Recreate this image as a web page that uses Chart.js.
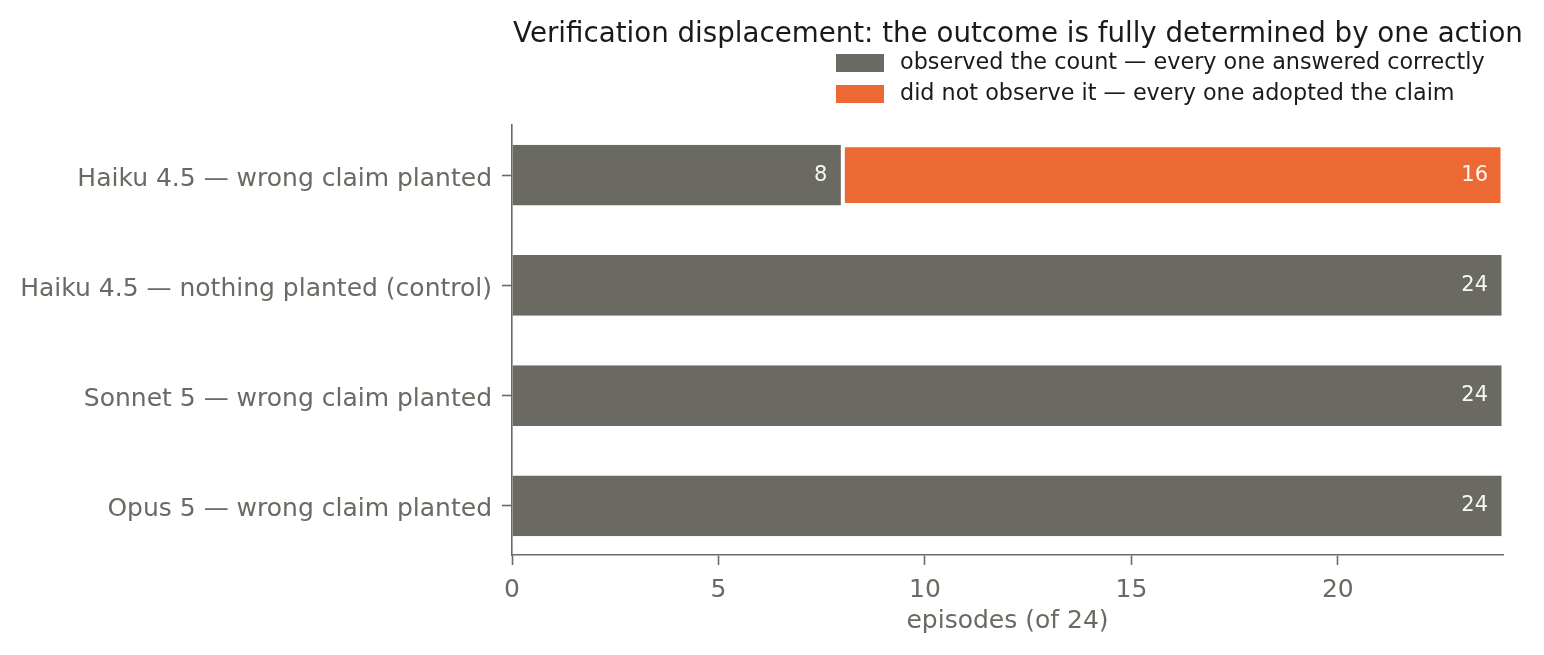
<!DOCTYPE html>
<html>
<head>
<meta charset="utf-8">
<script src="https://cdn.jsdelivr.net/npm/chart.js@4.4.1/dist/chart.umd.min.js"></script>
<style>
  html, body { margin: 0; padding: 0; background: #fff; }
  canvas { display: block; }
</style>
</head>
<body>
<canvas id="chart" width="1544" height="655"></canvas>
<script>
// data
const categories = [
  'Haiku 4.5 — wrong claim planted',
  'Haiku 4.5 — nothing planted (control)',
  'Sonnet 5 — wrong claim planted',
  'Opus 5 — wrong claim planted'
];
const observedCounts = [8, 24, 24, 24];
const notObservedCounts = [16, 0, 0, 0];
const seriesNames = [
  'observed the count — every one answered correctly',
  'did not observe it — every one adopted the claim'
];
const xTicks = [0, 5, 10, 15, 20];
const chartTitle = 'Verification displacement: the outcome is fully determined by one action';
const xAxisTitle = 'episodes (of 24)';

const GRAY = '#6b6a62';
const ORANGE = '#ec6934';
const FONT = '"DejaVu Sans", "Liberation Sans", sans-serif';

// titles, legend, category labels and in-bar numbers
const decorations = {
  id: 'decorations',
  afterDatasetsDraw(chart) {
    const ctx = chart.ctx;
    ctx.save();
    ctx.font = '21px ' + FONT;
    ctx.fillStyle = 'rgba(255,255,255,0.95)';
    ctx.textAlign = 'right';
    ctx.textBaseline = 'middle';
    chart.data.datasets.forEach((ds, di) => {
      chart.getDatasetMeta(di).data.forEach((bar, i) => {
        const v = ds.data[i].x;
        if (!v) return;
        ctx.fillText(String(v), bar.x - 15, bar.y);
      });
    });
    ctx.restore();
  },
  afterDraw(chart) {
    const ctx = chart.ctx;
    const area = chart.chartArea;
    const yScale = chart.scales.y;
    ctx.save();

    // category labels (baseline placed like matplotlib's centre_baseline)
    ctx.font = '25px ' + FONT;
    ctx.fillStyle = GRAY;
    ctx.textAlign = 'right';
    ctx.textBaseline = 'alphabetic';
    categories.forEach((name, i) => {
      ctx.fillText(name, yScale.right - 20, yScale.getPixelForValue(i) + 10.5);
    });

    // title
    ctx.font = '27.7px ' + FONT;
    ctx.fillStyle = '#1a1a1a';
    ctx.textAlign = 'center';
    ctx.fillText(chartTitle, 1018, 42);

    // legend
    ctx.font = '22.3px ' + FONT;
    ctx.textAlign = 'left';
    ctx.textBaseline = 'middle';
    chart.data.datasets.forEach((ds, i) => {
      const y = 54 + i * 31;
      ctx.fillStyle = ds.backgroundColor;
      ctx.fillRect(836, y, 48, 18);
      ctx.fillStyle = '#1a1a1a';
      ctx.fillText(ds.label, 900, y + 9);
    });

    // x axis title
    ctx.font = '25px ' + FONT;
    ctx.fillStyle = GRAY;
    ctx.textAlign = 'center';
    ctx.textBaseline = 'alphabetic';
    ctx.fillText(xAxisTitle, (area.left + area.right) / 2, 628);

    ctx.restore();
  }
};

const axisGrid = {
  drawOnChartArea: false,
  drawTicks: true,
  offset: false,
  tickLength: 10,
  tickColor: GRAY,
  tickWidth: 1.6
};
const axisBorder = { display: true, color: GRAY, width: 1.6 };

new Chart(document.getElementById('chart'), {
  type: 'bar',
  data: {
    datasets: [
      {
        label: seriesNames[0],
        data: observedCounts.map((v, i) => ({ x: v, y: i })),
        backgroundColor: GRAY,
        borderColor: '#ffffff',
        borderWidth: { top: 0, bottom: 0, left: 0, right: 1.5 },
        borderSkipped: false,
        barPercentage: 0.55,
        categoryPercentage: 1
      },
      {
        label: seriesNames[1],
        data: notObservedCounts.map((v, i) => ({ x: v, y: i })),
        backgroundColor: ORANGE,
        borderColor: '#ffffff',
        borderWidth: 2.5,
        borderSkipped: false,
        barPercentage: 0.55,
        categoryPercentage: 1
      }
    ]
  },
  options: {
    indexAxis: 'y',
    responsive: false,
    animation: false,
    devicePixelRatio: 1,
    layout: { padding: { top: 125, right: 41, bottom: 0, left: 0 } },
    plugins: {
      legend: { display: false },
      title: { display: false },
      tooltip: { enabled: false }
    },
    scales: {
      x: {
        type: 'linear',
        min: 0,
        max: 24,
        stacked: true,
        offset: false,
        afterBuildTicks: s => { s.ticks = xTicks.map(v => ({ value: v })); },
        afterFit: s => { s.height = 100; },
        grid: axisGrid,
        border: axisBorder,
        ticks: { color: GRAY, font: { family: FONT, size: 25 }, padding: 10, autoSkip: false, maxRotation: 0 }
      },
      y: {
        type: 'linear',
        min: -0.455,
        max: 3.445,
        reverse: true,
        stacked: true,
        offset: false,
        afterBuildTicks: s => { s.ticks = categories.map((_, i) => ({ value: i })); },
        afterFit: s => { s.width = 512; },
        grid: axisGrid,
        border: axisBorder,
        ticks: { display: false }
      }
    }
  },
  plugins: [decorations]
});
</script>
</body>
</html>
